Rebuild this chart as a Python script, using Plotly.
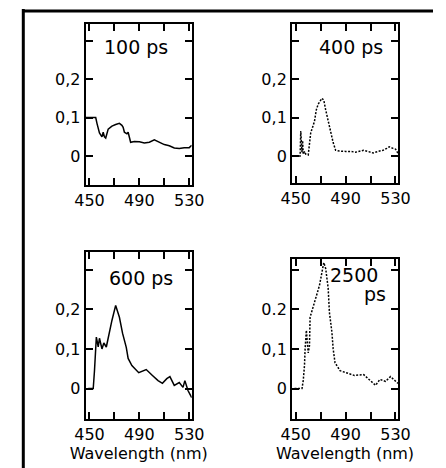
import plotly.graph_objects as go

# ---------------- data ----------------
wl_100 = [447, 455, 456, 458, 460, 461, 462, 463, 465, 468, 471, 474, 476, 477, 478, 480, 481, 482, 483,
          486, 490, 494, 498, 502, 506, 510, 514, 518, 522, 526, 530, 532]
abs_100 = [0.1, 0.1, 0.085, 0.06, 0.05, 0.062, 0.05, 0.047, 0.07, 0.078, 0.082, 0.085, 0.08, 0.075, 0.062,
           0.058, 0.062, 0.05, 0.036, 0.038, 0.037, 0.034, 0.036, 0.042, 0.036, 0.03, 0.027, 0.021, 0.02,
           0.022, 0.022, 0.028]

wl_400 = [447, 453.5, 454, 455, 455.5, 456, 457, 458, 460, 461, 462, 463.5, 465, 466.5, 468, 471, 472.5,
          474, 476, 478, 480, 482, 485, 490, 494, 498, 501, 504.5, 508, 512, 516, 520, 523, 525, 528, 530, 532]
abs_400 = [0, 0, 0.065, 0.01, 0.04, 0.005, 0.012, 0.005, 0.003, 0.03, 0.06, 0.075, 0.09, 0.12, 0.135, 0.15,
           0.145, 0.12, 0.09, 0.06, 0.035, 0.015, 0.013, 0.012, 0.012, 0.01, 0.013, 0.015, 0.012, 0.008,
           0.012, 0.015, 0.02, 0.024, 0.02, 0.018, 0.007]

wl_600 = [449, 453, 454, 455, 455.5, 457, 458, 460, 461.5, 463.5, 465, 468, 471, 474, 476.5, 479.5, 481,
          484, 489.5, 495.5, 500.5, 505, 508.5, 512, 514.5, 518, 522, 525, 526.5, 529, 532]
abs_600 = [0, 0, 0.045, 0.1, 0.13, 0.105, 0.127, 0.1, 0.115, 0.105, 0.13, 0.172, 0.21, 0.18, 0.14, 0.104,
           0.076, 0.058, 0.04, 0.048, 0.033, 0.02, 0.013, 0.025, 0.03, 0.008, 0.015, 0.003, 0.02, -0.005, -0.023]

wl_2500 = [449, 455, 456, 457, 457.5, 458.5, 460, 461, 461.5, 465, 469, 472, 472.5, 474, 476, 477, 479, 480,
           481.5, 485.5, 492, 497, 504.5, 510, 514, 517.5, 522, 526, 530, 532]
abs_2500 = [0, 0, 0.02, 0.058, 0.1, 0.147, 0.09, 0.108, 0.18, 0.218, 0.26, 0.31, 0.318, 0.303, 0.253, 0.192,
            0.142, 0.1, 0.065, 0.045, 0.038, 0.033, 0.035, 0.02, 0.008, 0.023, 0.018, 0.03, 0.02, 0.013]

x_tickvals = [450, 470, 490, 510, 530]
x_ticktext = ["450", "", "490", "", "530"]
y_tickvals = [0, 0.1, 0.2, 0.3]
y_ticktext_a = ["0", "0,1", "0,2", ""]
y_ticktext_b = ["0", "0,1", "0.2", ""]
labels = ["100 ps", "400 ps", "600 ps"]
x_title = "Wavelength (nm)"

# ---------------- figure ----------------
W, H = 446, 468
FONT = "DejaVu Sans"

def px_x(p):
    return p / W

def px_y(p):
    return 1 - p / H

panels = [
    dict(x=wl_100, y=abs_100, dom_x=(79, 191), dom_y=(24, 185), yr=[-0.075, 0.343], yt=y_ticktext_a, dash="solid", title=False),
    dict(x=wl_400, y=abs_400, dom_x=(297, 409), dom_y=(24, 183), yr=[-0.070, 0.343], yt=y_ticktext_a, dash="2px,1.5px", title=False),
    dict(x=wl_600, y=abs_600, dom_x=(79, 191), dom_y=(252, 419), yr=[-0.077, 0.345], yt=y_ticktext_a, dash="solid", title=True),
    dict(x=wl_2500, y=abs_2500, dom_x=(297, 409), dom_y=(259, 419), yr=[-0.077, 0.327], yt=y_ticktext_b, dash="2px,1.5px", title=True),
]

fig = go.Figure()
layout = dict(
    width=W, height=H,
    margin=dict(l=0, r=0, t=0, b=0),
    paper_bgcolor="white", plot_bgcolor="white",
    showlegend=False,
    font=dict(family=FONT, color="black", size=16),
)

for i, p in enumerate(panels, start=1):
    xa = "x" if i == 1 else f"x{i}"
    ya = "y" if i == 1 else f"y{i}"
    fig.add_trace(go.Scatter(
        x=p["x"], y=p["y"], mode="lines", xaxis=xa, yaxis=ya,
        line=dict(color="black", width=1.5, dash=p["dash"]),
        cliponaxis=True,
    ))
    common = dict(showline=True, linecolor="black", linewidth=2, mirror="ticks",
                  ticks="inside", ticklen=7, tickwidth=1.5, tickcolor="black",
                  showgrid=False, zeroline=False, tickfont=dict(family=FONT, size=16, color="black"))
    layout["xaxis" if i == 1 else f"xaxis{i}"] = dict(
        domain=[px_x(p["dom_x"][0]), px_x(p["dom_x"][1])],
        range=[447, 532], anchor=ya,
        tickmode="array", tickvals=x_tickvals, ticktext=x_ticktext,
        title=dict(text=x_title if p["title"] else "", font=dict(family=FONT, size=16, color="black"), standoff=0),
        **common,
    )
    layout["yaxis" if i == 1 else f"yaxis{i}"] = dict(
        domain=[px_y(p["dom_y"][1]), px_y(p["dom_y"][0])],
        range=p["yr"], anchor=xa,
        tickmode="array", tickvals=y_tickvals, ticktext=p["yt"],
        **common,
    )

fig.update_layout(**layout)

ann = [
    dict(text=labels[0], x=px_x(132), y=px_y(47)),
    dict(text=labels[1], x=px_x(359), y=px_y(47)),
    dict(text=labels[2], x=px_x(137), y=px_y(278)),
    dict(text="2500", x=px_x(363), y=px_y(275)),
    dict(text="ps", x=px_x(385), y=px_y(294)),
]
for a in ann:
    fig.add_annotation(xref="paper", yref="paper", x=a["x"], y=a["y"], text=a["text"],
                       showarrow=False, xanchor="center", yanchor="middle",
                       font=dict(family=FONT, size=19, color="black"))

# outer frame (left and top edges)
fig.add_shape(type="line", xref="paper", yref="paper", x0=px_x(13), x1=px_x(13), y0=0, y1=px_y(9),
              line=dict(color="black", width=3))
fig.add_shape(type="line", xref="paper", yref="paper", x0=px_x(12), x1=1, y0=px_y(11), y1=px_y(11),
              line=dict(color="black", width=3))

fig.write_html("out.html")
